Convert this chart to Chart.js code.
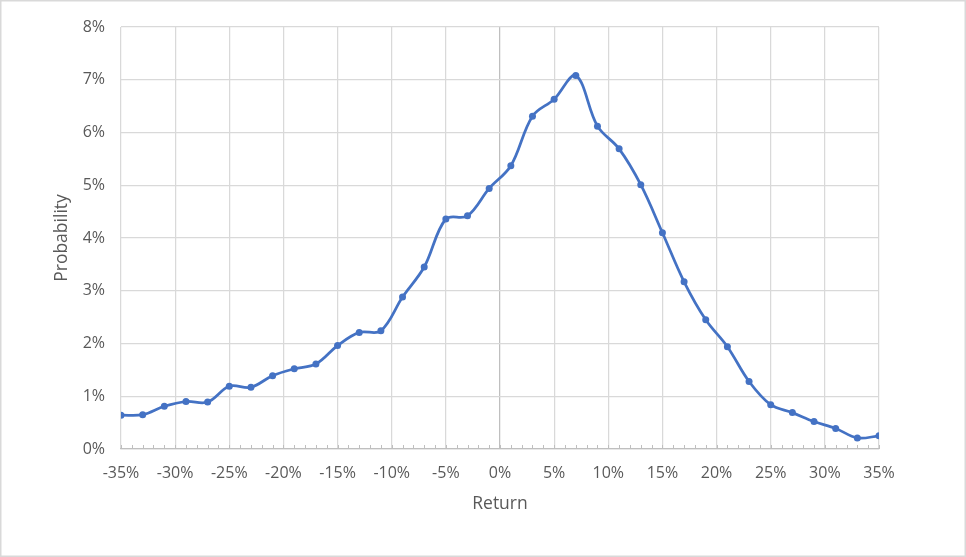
<!DOCTYPE html>
<html>
<head>
<meta charset="utf-8">
<script src="https://cdn.jsdelivr.net/npm/chart.js@4.4.1/dist/chart.umd.min.js"></script>
<style>
  html, body { margin: 0; padding: 0; background: #fff; }
  canvas { display: block; }
</style>
</head>
<body>
<canvas id="probChart" width="966" height="557"></canvas>
<script>
// return buckets (%) and the probability of each (%)
const returns = [
  -35, -33, -31, -29, -27, -25, -23, -21, -19, -17, -15, -13,
  -11, -9, -7, -5, -3, -1, 1, 3, 5, 7, 9, 11,
  13, 15, 17, 19, 21, 23, 25, 27, 29, 31, 33, 35,
];
const probability = [
  0.64, 0.65, 0.81, 0.90, 0.89, 1.19, 1.17, 1.39, 1.52, 1.61, 1.96, 2.21,
  2.24, 2.88, 3.45, 4.36, 4.42, 4.94, 5.37, 6.31, 6.63, 7.08, 6.12, 5.69,
  5.01, 4.10, 3.17, 2.45, 1.94, 1.28, 0.84, 0.69, 0.52, 0.39, 0.21, 0.25,
];
const xTicks = { min: -35, max: 35, step: 5, minorStep: 1 };
const yTicks = { min: 0, max: 8, step: 1 };

const blue = '#4472C4';
const gridGray = '#d9d9d9';
const axisGray = '#bfbfbf';
const textGray = '#595959';

// small tick marks every 1% sitting on the x axis line
const minorTicks = {
  id: 'minorTicks',
  beforeDatasetsDraw(chart) {
    const { ctx, scales: { x }, chartArea } = chart;
    ctx.save();
    ctx.strokeStyle = axisGray;
    ctx.lineWidth = 1;
    for (let v = xTicks.min; v <= xTicks.max; v += xTicks.minorStep) {
      const px = Math.round(x.getPixelForValue(v)) + 0.5;
      ctx.beginPath();
      ctx.moveTo(px, chartArea.bottom);
      ctx.lineTo(px, chartArea.bottom - 4);
      ctx.stroke();
    }
    ctx.restore();
  },
};

const outerBorder = {
  id: 'outerBorder',
  afterDraw(chart) {
    const { ctx, width, height } = chart;
    ctx.save();
    ctx.strokeStyle = gridGray;
    ctx.lineWidth = 1.5;
    ctx.strokeRect(0.75, 0.75, width - 1.5, height - 1.5);
    ctx.restore();
  },
};

const ctx = document.getElementById('probChart').getContext('2d');

new Chart(ctx, {
  type: 'line',
  data: {
    datasets: [
      {
        label: 'Probability',
        data: returns.map((r, i) => ({ x: r, y: probability[i] })),
        borderColor: blue,
        backgroundColor: blue,
        borderWidth: 2.75,
        pointRadius: 3.5,
        pointBorderWidth: 0,
        pointBackgroundColor: blue,
        tension: 0.35,
        fill: false,
      },
    ],
  },
  options: {
    responsive: false,
    devicePixelRatio: 1,
    animation: false,
    layout: {
      padding: { left: 0, right: 87, top: 27, bottom: 0 },
    },
    plugins: {
      legend: { display: false },
      tooltip: { enabled: false },
    },
    scales: {
      x: {
        type: 'linear',
        min: xTicks.min,
        max: xTicks.max,
        afterFit: (scale) => { scale.height = 108; },
        grid: {
          color: (c) => (c.tick && c.tick.value === 0 ? axisGray : gridGray),
          lineWidth: 1.25,
          drawTicks: false,
        },
        border: { display: true, color: axisGray, width: 1.25 },
        ticks: {
          stepSize: xTicks.step,
          padding: 15,
          color: textGray,
          font: { family: 'Open Sans', size: 16 },
          callback: (v) => v + '%',
        },
        title: {
          display: true,
          text: 'Return',
          color: textGray,
          font: { family: 'Open Sans', size: 17.5 },
          padding: { top: 0, bottom: 42 },
        },
      },
      y: {
        min: yTicks.min,
        max: yTicks.max,
        afterFit: (scale) => { scale.width = 121; },
        grid: {
          color: gridGray,
          lineWidth: 1.25,
          drawTicks: false,
        },
        border: { display: false },
        ticks: {
          stepSize: yTicks.step,
          padding: 16,
          color: textGray,
          font: { family: 'Open Sans', size: 16 },
          callback: (v) => v + '%',
        },
        title: {
          display: true,
          text: 'Probability',
          color: textGray,
          font: { family: 'Open Sans', size: 17.5 },
          padding: { top: 52, bottom: 0 },
        },
      },
    },
  },
  plugins: [minorTicks, outerBorder],
});
</script>
</body>
</html>
